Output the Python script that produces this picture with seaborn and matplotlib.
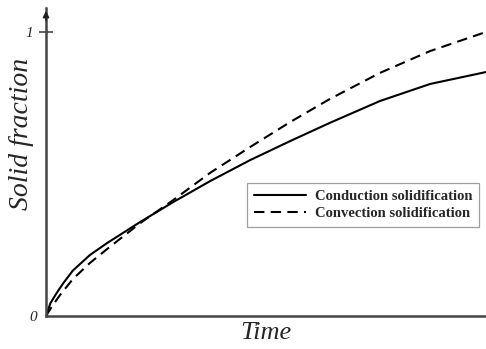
import matplotlib
matplotlib.use("Agg")
import matplotlib.pyplot as plt
import seaborn as sns
import pandas as pd

time_cond = [0.0, 0.010, 0.023, 0.039, 0.061, 0.100, 0.139, 0.214, 0.289, 0.373, 0.464, 0.555, 0.645, 0.759, 0.873, 1.0]
frac_cond = [0.0, 0.045, 0.078, 0.115, 0.160, 0.215, 0.257, 0.331, 0.401, 0.475, 0.549, 0.616, 0.680, 0.757, 0.817, 0.859]
time_conv = [0.0, 0.014, 0.032, 0.061, 0.100, 0.139, 0.214, 0.289, 0.373, 0.464, 0.555, 0.645, 0.759, 0.873, 1.0]
frac_conv = [0.0, 0.035, 0.074, 0.130, 0.187, 0.236, 0.327, 0.408, 0.504, 0.595, 0.683, 0.764, 0.856, 0.933, 1.0]
labels = ["Conduction solidification", "Convection solidification"]

df = pd.concat([
    pd.DataFrame({"t": time_cond, "f": frac_cond, "kind": labels[0]}),
    pd.DataFrame({"t": time_conv, "f": frac_conv, "kind": labels[1]}),
])

sns.set_style("white")
plt.rcParams["font.family"] = ["Liberation Serif", "DejaVu Serif"]

fig = plt.figure(figsize=(4.86, 3.49), dpi=100)
ax = fig.add_axes([46/486, 1-316/349, 440/486, 308/349])

sns.lineplot(data=df, x="t", y="f", style="kind", color="black", linewidth=1.5,
             dashes={labels[0]: "", labels[1]: (5, 3)}, ax=ax, legend=True,
             estimator=None, sort=False)

ax.set_xlim(0, 1.0)
ax.set_ylim(0, 308/284)
for s in ["top", "right"]:
    ax.spines[s].set_visible(False)
for s in ["left", "bottom"]:
    ax.spines[s].set_color("#444444")
    ax.spines[s].set_linewidth(1.8)

ax.set_xticks([])
ax.set_yticks([1])
ax.set_yticklabels(["1"], fontsize=11, style="italic")
ax.tick_params(axis="y", direction="inout", length=10, width=1.2, color="#444444", pad=4, left=True)

ax.text(-0.02, -0.005, "0", transform=ax.transAxes, ha="right", va="center",
        fontsize=11, style="italic")

# arrow at top of y axis
ax.annotate("", xy=(0, 1.0), xycoords="axes fraction", xytext=(0, 0.95),
            arrowprops=dict(arrowstyle="-|>", color="#222222", lw=1.2, mutation_scale=9))

ax.set_xlabel("Time", fontsize=19, style="italic", labelpad=4)
ax.set_ylabel("Solid fraction", fontsize=20, style="italic")
ax.yaxis.set_label_coords(-0.028, 0.59)

leg = ax.legend(loc="upper left", bbox_to_anchor=(247/486, 1-183/349),
                bbox_transform=fig.transFigure, frameon=True, fancybox=False,
                prop={"weight": "bold", "size": 10.5}, handlelength=3.6,
                borderpad=0.45, labelspacing=0.3, handletextpad=0.6,
                borderaxespad=0)
leg.get_frame().set_edgecolor("#888888")
leg.get_frame().set_linewidth(0.9)

fig.savefig("out.png", dpi=100)
